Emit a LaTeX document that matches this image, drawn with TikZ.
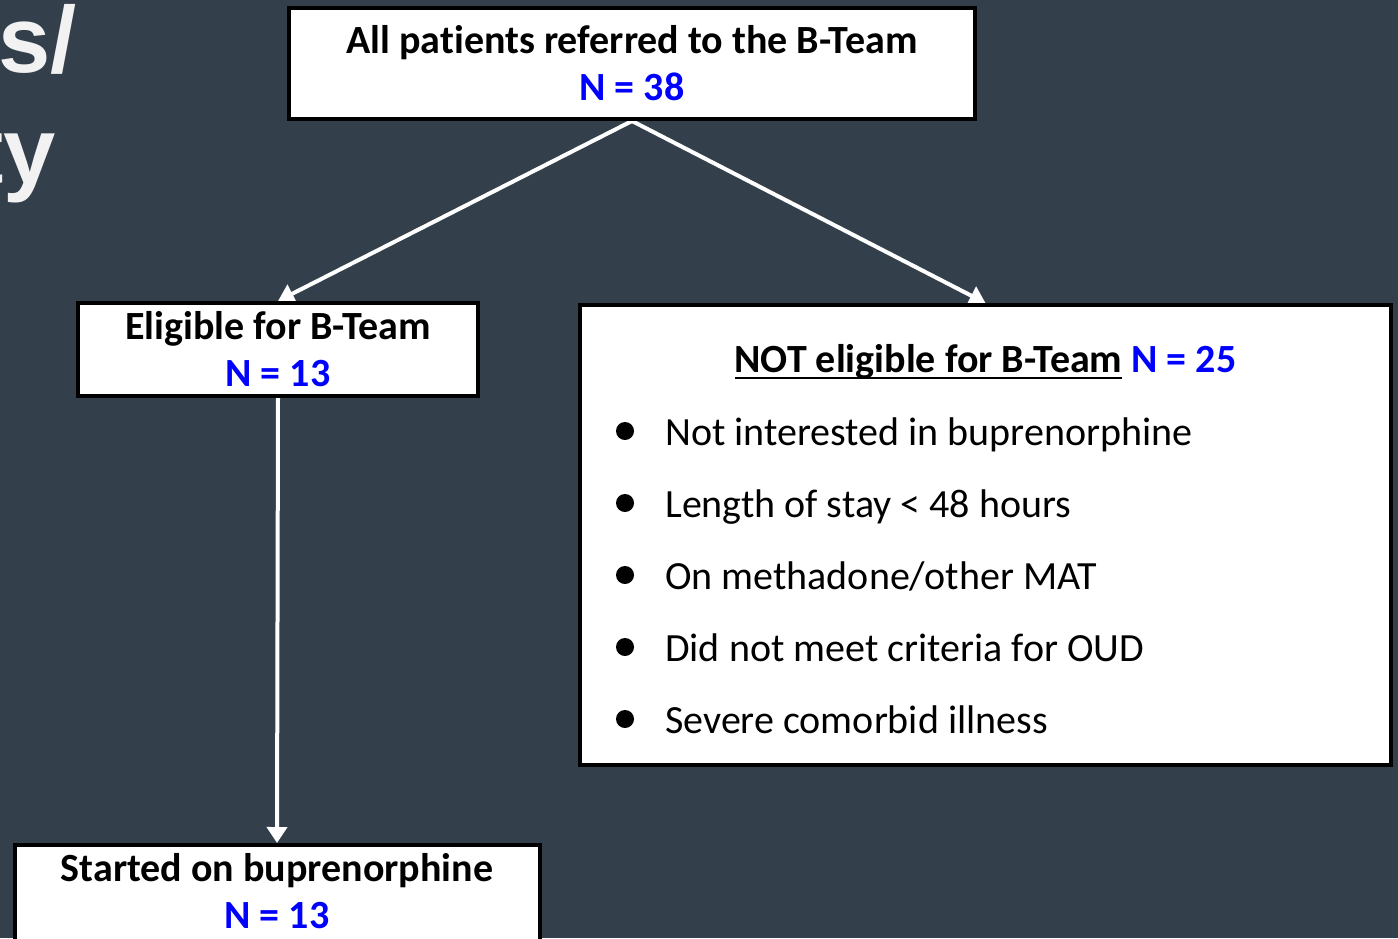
\documentclass[tikz,border=0pt]{standalone}
\usepackage{fontspec}
\setmainfont{Carlito}[Ligatures=NoCommon]
\newfontfamily\headfont{Liberation Sans}
\usetikzlibrary{arrows.meta,backgrounds}
\definecolor{slide}{HTML}{333F4A}
\definecolor{countblue}{HTML}{0000FF}
\definecolor{titlegray}{HTML}{F2F2F2}
\newsavebox\ulsave
\newcommand\ulined[1]{\sbox\ulsave{#1}\rlap{\rule[-7pt]{\wd\ulsave}{2.5pt}}\usebox\ulsave}

\begin{document}
\begin{tikzpicture}[x=1pt,y=-1pt,
  box/.style={draw=black,line width=4pt,fill=white,inner sep=0pt,align=center,
    font=\fontsize{40}{47}\selectfont\bfseries},
  boxtext/.style={inner sep=0pt,align=center,font=\fontsize{40}{47}\selectfont\bfseries},
  flow/.style={draw=white,line width=4pt,-{Triangle[width=20pt,length=16pt]}},
  count/.style={text=countblue},
  reason/.style={anchor=base west,inner sep=0pt,font=\fontsize{40}{43}\selectfont},
  dot/.style={circle,fill=black,inner sep=0pt,minimum size=18pt},
  title/.style={anchor=base east,inner sep=0pt,text=titlegray,
    font=\headfont\bfseries\fontsize{94}{110}\selectfont}]
\useasboundingbox (0,0) rectangle (1398,938);

% slide title, running off the left edge
\node[title] (titleA) at (77,72) {s/};
\node[title] (titleB) at (56,183) {ty};

% flow boxes
\node[box,minimum width=686pt,minimum height=111pt] (all) at (632,63.5)
  {All patients referred to the B-Team\\\textcolor{countblue}{N = 38}};
\node[box,minimum width=400pt,minimum height=93pt] (elig) at (278,349.5)
  {Eligible for B-Team\\\textcolor{countblue}{N = 13}};
% the last box runs past the bottom edge
\node[box,minimum width=525pt,minimum height=120pt] (start) at (277,905) {};
\node[boxtext] (starttext) at (277,891.5)
  {Started on buprenorphine\\\textcolor{countblue}{N = 13}};
\node[box,minimum width=811pt,minimum height=460pt] (notelig) at (985.5,535) {};

% contents of the exclusion box
\node[inner sep=0pt,anchor=base,font=\fontsize{40}{43}\selectfont\bfseries] (nehead) at (985.5,372)
  {\ulined{NOT eligible for B-Team} \textcolor{countblue}{N = 25}};
\foreach \i/\txt in {1/{Not interested in buprenorphine},
                     2/{Length of stay < 48 hours},
                     3/{On methadone/other MAT},
                     4/{Did not meet criteria for OUD},
                     5/{Severe comorbid illness}}{
  \node[dot] (b\i) at (625,359+72*\i) {};
  \node[reason] (r\i) at (665,373+72*\i) {\txt};
}

% background and connectors
\begin{scope}[on background layer]
  \fill[slide] (0,0) rectangle (1398,938);
  \draw[flow] (all.south) -- (elig.north);
  \draw[flow] (all.south) -- (notelig.north);
  \draw[flow] (elig.south) -- (start.north);
\end{scope}
\end{tikzpicture}
\end{document}
